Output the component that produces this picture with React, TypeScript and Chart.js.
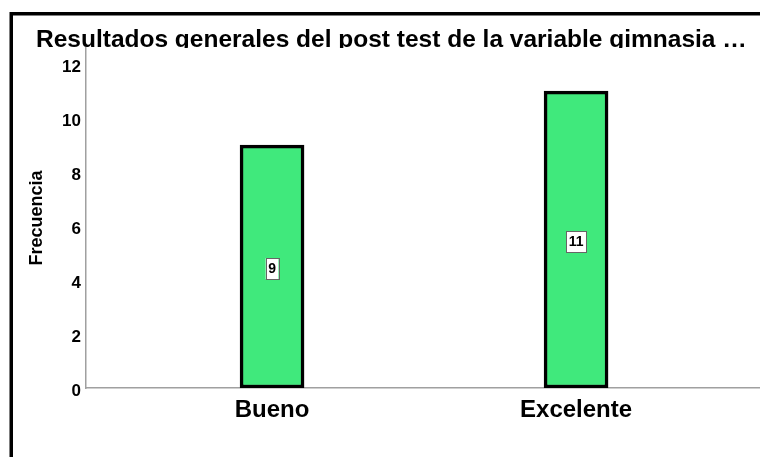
import React, { useEffect, useRef } from 'react';
import { Chart, registerables } from 'chart.js';

Chart.register(...registerables);

const TITLE = 'Resultados generales del post test de la variable gimnasia …';
const Y_TITLE = 'Frecuencia';
const categories = ['Bueno', 'Excelente'];
const frequencies = [9, 11];
const yTicks = [0, 2, 4, 6, 8, 10, 12];

const FONT = 'Arial, "Liberation Sans", Helvetica, sans-serif';

export default function App() {
  const ref = useRef<HTMLCanvasElement | null>(null);

  useEffect(() => {
    if (!ref.current) return;

    const framePlugin = {
      id: 'frameAndTitle',
      afterDraw(chart: any) {
        const ctx = chart.ctx;
        ctx.save();
        ctx.strokeStyle = '#000';
        ctx.lineWidth = 3.5;
        ctx.beginPath();
        ctx.moveTo(11.25, 457);
        ctx.lineTo(11.25, 13.75);
        ctx.lineTo(760, 13.75);
        ctx.stroke();
        ctx.restore();

        ctx.save();
        ctx.beginPath();
        ctx.rect(0, 16, 760, chart.chartArea.top - 16);
        ctx.clip();
        ctx.fillStyle = '#000';
        ctx.font = `bold 24.5px ${FONT}`;
        ctx.textAlign = 'left';
        ctx.textBaseline = 'alphabetic';
        ctx.fillText(TITLE, 36, 46.5);
        ctx.restore();
      },
    };

    const labelPlugin = {
      id: 'valueBoxes',
      afterDatasetsDraw(chart: any) {
        const ctx = chart.ctx;
        const meta = chart.getDatasetMeta(0);
        ctx.save();
        ctx.font = `bold 14px ${FONT}`;
        ctx.textAlign = 'center';
        ctx.textBaseline = 'middle';
        meta.data.forEach((bar: any, i: number) => {
          const text = String(frequencies[i]);
          const cx = bar.x;
          const cy = (bar.y + bar.base) / 2 + 2;
          const w = ctx.measureText(text).width + 5;
          const h = 21;
          ctx.fillStyle = '#fff';
          ctx.fillRect(cx - w / 2, cy - h / 2, w, h);
          ctx.strokeStyle = '#666';
          ctx.lineWidth = 1;
          ctx.strokeRect(Math.round(cx - w / 2) + 0.5, Math.round(cy - h / 2) + 0.5, Math.round(w), h);
          ctx.fillStyle = '#000';
          ctx.fillText(text, cx, cy + 1);
        });
        ctx.restore();
      },
    };

    const chart = new Chart(ref.current, {
      type: 'bar',
      data: {
        datasets: [
          {
            data: frequencies.map((v, i) => ({ x: i + 1, y: v })),
            backgroundColor: '#40e97c',
            borderColor: '#000',
            borderWidth: 3.5,
            borderSkipped: false,
            barThickness: 64,
          },
        ],
      },
      options: {
        animation: false,
        responsive: false,
        layout: { padding: { top: 48, left: 0, right: 0, bottom: 0 } },
        plugins: {
          legend: { display: false },
          title: { display: false },
          tooltip: { enabled: false },
        },
        scales: {
          x: {
            type: 'linear',
            min: 0.388,
            max: 2.605,
            offset: false,
            grid: { display: false, drawTicks: false, tickLength: 0 },
            border: { display: true, color: '#a0a0a0', width: 1.5 },
            afterBuildTicks: (scale: any) => {
              scale.ticks = categories.map((_, i) => ({ value: i + 1 }));
            },
            afterFit: (scale: any) => {
              scale.height = 69;
            },
            ticks: {
              autoSkip: false,
              maxRotation: 0,
              padding: 8,
              color: '#000',
              font: { family: FONT, size: 24, weight: 'bold' },
              callback: (v: any) => categories[Math.round(Number(v)) - 1] ?? '',
            },
          },
          y: {
            type: 'linear',
            min: 0,
            max: 12.6,
            grid: { display: false, drawTicks: false, tickLength: 0 },
            border: { display: true, color: '#a0a0a0', width: 1.5 },
            afterBuildTicks: (scale: any) => {
              scale.ticks = yTicks.map((v) => ({ value: v }));
            },
            afterFit: (scale: any) => {
              scale.width = 86;
            },
            ticks: {
              padding: 5,
              labelOffset: 3.5,
              color: '#000',
              font: { family: FONT, size: 17, weight: 'bold' },
            },
            title: {
              display: true,
              text: Y_TITLE,
              color: '#000',
              font: { family: FONT, size: 18, weight: 'bold' },
              padding: { top: 26.7, bottom: 0 },
            },
          },
        },
      },
      plugins: [labelPlugin, framePlugin],
    } as any);

    return () => chart.destroy();
  }, []);

  return (
    <div style={{ position: 'absolute', left: 0, top: 0, width: 760, height: 457, background: '#fff' }}>
      <canvas ref={ref} width={760} height={457} style={{ display: 'block', width: 760, height: 457 }} />
    </div>
  );
}
